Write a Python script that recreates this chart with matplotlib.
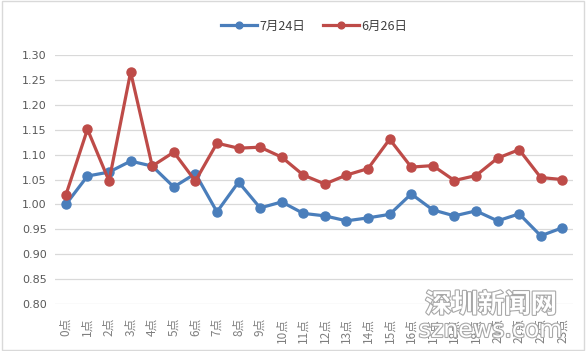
import matplotlib
matplotlib.use("Agg")
import matplotlib.pyplot as plt
import matplotlib.patheffects as pe
from matplotlib.patches import Rectangle

plt.rcParams['font.family'] = ['Noto Sans CJK SC', 'DejaVu Sans']

# data
hours = [f"{h}点" for h in range(24)]
jul24 = [1.000, 1.057, 1.065, 1.087, 1.077, 1.035, 1.062, 0.985, 1.045, 0.993,
         1.005, 0.982, 0.977, 0.967, 0.973, 0.980, 1.021, 0.989, 0.977, 0.987,
         0.967, 0.981, 0.937, 0.953]
jun26 = [1.019, 1.151, 1.047, 1.266, 1.077, 1.105, 1.047, 1.123, 1.113, 1.115,
         1.095, 1.059, 1.041, 1.059, 1.072, 1.131, 1.075, 1.078, 1.048, 1.058,
         1.093, 1.110, 1.054, 1.050]
series_names = ["7月24日", "6月26日"]
yticks = [0.80, 0.85, 0.90, 0.95, 1.00, 1.05, 1.10, 1.15, 1.20, 1.25, 1.30]

blue = "#4a7ebb"
red = "#be4b48"

fig = plt.figure(figsize=(5.86, 3.51), dpi=100)
ax = fig.add_axes([0.094, 0.134, 0.884, 0.709])

x = list(range(len(hours)))
ax.plot(x, jul24, color=blue, lw=2.3, marker="o", ms=6.5, label=series_names[0], zorder=3)
ax.plot(x, jun26, color=red, lw=2.3, marker="o", ms=6.5, label=series_names[1], zorder=3)

ax.set_xlim(-0.5, 23.5)
ax.set_ylim(0.80, 1.30)
ax.set_yticks(yticks)
ax.set_yticklabels([f"{v:.2f}" for v in yticks], fontsize=8, color="#595959",
                   family=['DejaVu Sans'])
ax.yaxis.grid(True, color="#d9d9d9", lw=0.9)
ax.set_axisbelow(True)
ax.set_xticks(x)
ax.set_xticklabels(hours, rotation=90, fontsize=8.5, color="#7f7f7f", va="top")
ax.tick_params(axis="y", length=0, pad=6)
ax.tick_params(axis="x", length=0, pad=10)
for s in ax.spines.values():
    s.set_visible(False)

ax.legend(loc="lower center", bbox_to_anchor=(0.5, 1.045), ncol=2, frameon=False,
          fontsize=9, labelcolor="#404040", handlelength=2.9, columnspacing=1.4,
          handletextpad=0.2, markerscale=0.75)

# outer border of the chart box
fig.patches.append(Rectangle((0.004, 0.004), 0.992, 0.992, transform=fig.transFigure,
                             fill=False, ec="#d9d9d9", lw=1))

# watermark (sits over the last tick labels, as in the source image)
halo = [pe.withStroke(linewidth=1.6, foreground="#a8a8a8")]
fig.text(0.838, 0.131, "深圳新闻网", fontsize=19, color="white", ha="center", va="center",
         fontweight="bold", zorder=10, path_effects=halo)
fig.text(0.837, 0.06, "sznews.com", fontsize=17, color="white", ha="center", va="center",
         family=['DejaVu Sans'], zorder=10, path_effects=halo)

fig.savefig("out.png", dpi=100)
